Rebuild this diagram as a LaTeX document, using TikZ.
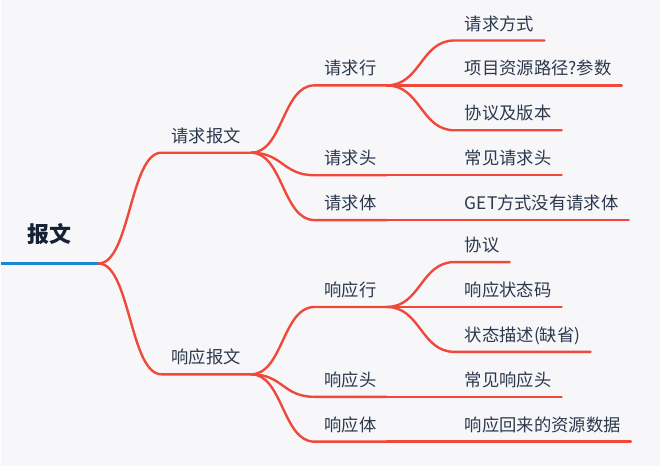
\documentclass[tikz,border=0pt]{standalone}
\usepackage{fontspec}
\newfontfamily\cjk{Noto Sans CJK SC}
\usepackage{tikz}
\usetikzlibrary{calc,positioning}
\definecolor{mapred}{RGB}{240,72,58}
\definecolor{mapblue}{RGB}{28,134,208}
\definecolor{maptext}{RGB}{44,56,76}
\definecolor{maproot}{RGB}{22,33,52}
\definecolor{mapbg}{RGB}{247,247,250}
\newcommand{\branch}[2]{\draw[branch] let \p1=(#1.south east), \p2=(#2.south west), \n1={(\x2-\x1)/2} in (\p1) .. controls +(\n1,0pt) and +(-\n1,0pt) .. (\p2) -- (#2.south east);}

\begin{document}
\begin{tikzpicture}[x=0.75pt,y=-0.75pt,
    topic/.style={font=\cjk\fontsize{13pt}{15pt}\selectfont, text=maptext, inner xsep=7.5pt, inner ysep=5.6pt, text height=10pt, text depth=2pt},
    roottopic/.style={font=\cjk\bfseries\fontsize{16.5pt}{19pt}\selectfont, text=maproot, anchor=south west, inner xsep=0pt, minimum width=72.75pt, inner ysep=13.5pt, text height=13pt, text depth=2pt},
    branch/.style={draw=mapred, line width=1.8pt, line cap=round},
    rootline/.style={draw=mapblue, line width=1.8pt}]
  \fill[mapbg] (0,0) rectangle (660,467);
  % nodes
  \node[roottopic] (root) at (0,264) {报文};
  \node[topic, above right=83.25pt and 47.25pt of root.south east, anchor=south west] (req) {请求报文};
  \node[topic, below right=83.25pt and 47.25pt of root.south east, anchor=south west] (resp) {响应报文};
  %
  \node[topic, above right=50.6pt and 47.5pt of req.south east, anchor=south west] (reqline) {请求行};
  \node[topic, below right=16.9pt and 47.5pt of req.south east, anchor=south west] (reqhead) {请求头};
  \node[topic, below right=50.6pt and 47.5pt of req.south east, anchor=south west] (reqbody) {请求体};
  \node[topic, above right=33.75pt and 51pt of reqline.south east, anchor=south west] (method) {请求方式};
  \node[topic, right=51pt of reqline.south east, anchor=south west] (path) {项目资源路径?参数};
  \node[topic, below right=33.75pt and 51pt of reqline.south east, anchor=south west] (proto) {协议及版本};
  \node[topic, right=51pt of reqhead.south east, anchor=south west] (reqheads) {常见请求头};
  \node[topic, right=51pt of reqbody.south east, anchor=south west] (getbody) {GET方式没有请求体};
  %
  \node[topic, above right=50.6pt and 47.5pt of resp.south east, anchor=south west] (respline) {响应行};
  \node[topic, below right=16.9pt and 47.5pt of resp.south east, anchor=south west] (resphead) {响应头};
  \node[topic, below right=50.6pt and 47.5pt of resp.south east, anchor=south west] (respbody) {响应体};
  \node[topic, above right=33.75pt and 51pt of respline.south east, anchor=south west] (rproto) {协议};
  \node[topic, right=51pt of respline.south east, anchor=south west] (status) {响应状态码};
  \node[topic, below right=33.75pt and 51pt of respline.south east, anchor=south west] (statusdesc) {状态描述(缺省)};
  \node[topic, right=51pt of resphead.south east, anchor=south west] (respheads) {常见响应头};
  \node[topic, right=51pt of respbody.south east, anchor=south west] (data) {响应回来的资源数据};
  % edges
  \draw[rootline] (root.south west) -- (root.south east);
  \branch{root}{req} \branch{root}{resp}
  \branch{req}{reqline} \branch{req}{reqhead} \branch{req}{reqbody}
  \branch{reqline}{method} \branch{reqline}{path} \branch{reqline}{proto}
  \branch{reqhead}{reqheads} \branch{reqbody}{getbody}
  \branch{resp}{respline} \branch{resp}{resphead} \branch{resp}{respbody}
  \branch{respline}{rproto} \branch{respline}{status} \branch{respline}{statusdesc}
  \branch{resphead}{respheads} \branch{respbody}{data}
\end{tikzpicture}
\end{document}
